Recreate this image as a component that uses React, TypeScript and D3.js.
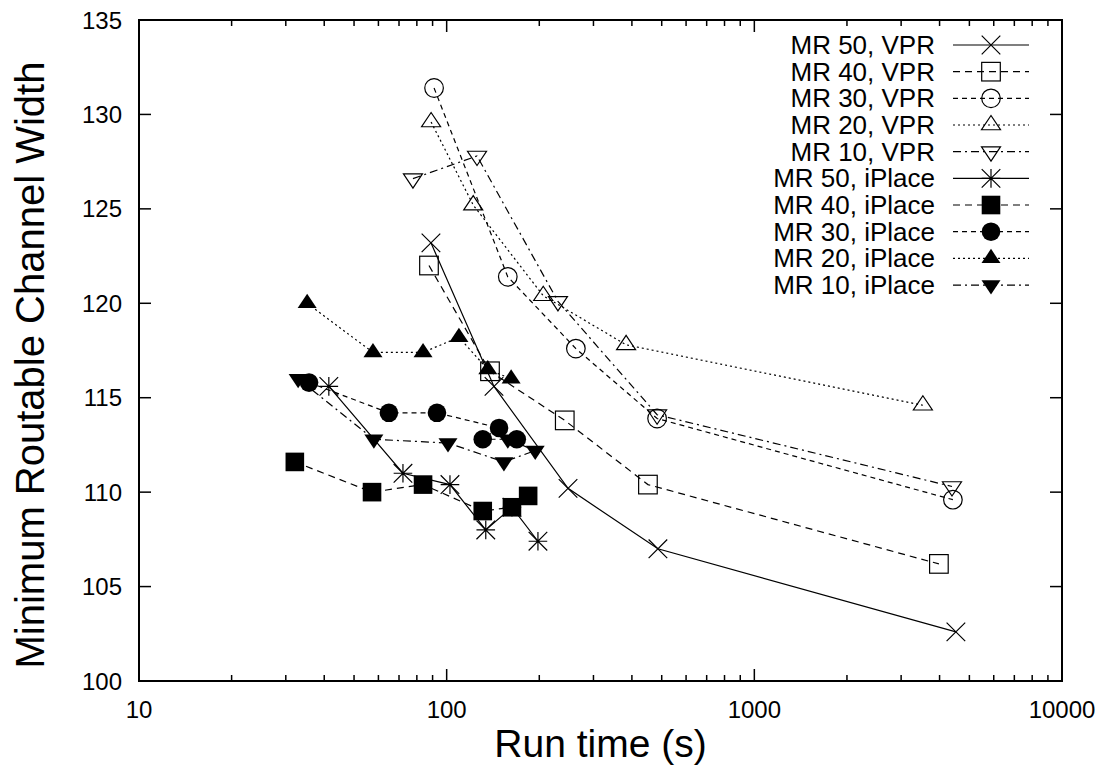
import React from "react";
import * as d3 from "d3";

// ---------- data ----------
const seriesNames = [
  "MR 50, VPR",
  "MR 40, VPR",
  "MR 30, VPR",
  "MR 20, VPR",
  "MR 10, VPR",
  "MR 50, iPlace",
  "MR 40, iPlace",
  "MR 30, iPlace",
  "MR 20, iPlace",
  "MR 10, iPlace",
];

const vpr50X = [88.9, 142.5, 248, 486, 4520];
const vpr50Y = [123.2, 115.6, 110.2, 107.0, 102.6];
const vpr40X = [87.6, 138.3, 242, 451, 3980];
const vpr40Y = [122.0, 116.4, 113.8, 110.4, 106.2];
const vpr30X = [91, 158, 263, 483, 4420];
const vpr30Y = [131.4, 121.4, 117.6, 113.9, 109.6];
const vpr20X = [89, 122, 206, 383, 3530];
const vpr20Y = [129.6, 125.2, 120.4, 117.8, 114.6];
const vpr10X = [77.7, 125.5, 230, 483, 4390];
const vpr10Y = [126.6, 127.8, 120.1, 114.1, 110.3];

const ip50X = [41.4, 72.1, 102.5, 134, 163, 198];
const ip50Y = [115.6, 111.0, 110.4, 108.0, 109.2, 107.4];
const ip40X = [32.1, 57.2, 83.8, 131, 163, 184];
const ip40Y = [111.6, 110.0, 110.4, 109.0, 109.2, 109.8];
const ip30X = [35.7, 64.9, 93, 148, 131, 169];
const ip30Y = [115.8, 114.2, 114.2, 113.4, 112.8, 112.8];
const ip20X = [35.2, 57.6, 83.8, 109.6, 136, 162];
const ip20Y = [120.0, 117.4, 117.4, 118.2, 116.5, 116.0];
const ip10X = [32.9, 58, 101, 153.5, 194, 158];
const ip10Y = [116.0, 112.8, 112.6, 111.6, 112.2, 112.8];

const xTickValues = [10, 100, 1000, 10000];
const yTickValues = [100, 105, 110, 115, 120, 125, 130, 135];

const seriesX = [vpr50X, vpr40X, vpr30X, vpr20X, vpr10X, ip50X, ip40X, ip30X, ip20X, ip10X];
const seriesY = [vpr50Y, vpr40Y, vpr30Y, vpr20Y, vpr10Y, ip50Y, ip40Y, ip30Y, ip20Y, ip10Y];
const markerTypes = ["x", "square", "circle", "tri", "dtri", "star", "fsquare", "fcircle", "ftri", "fdtri"];
const dashTypes = ["", "7,5", "5,4", "2,3", "8,4,2,4", "", "7,5", "5,4", "2,3", "8,4,2,4"];

// ---------- layout ----------
const W = 1106;
const H = 767;
const L = 139;
const R = 1062;
const T = 20;
const B = 681;
const FONT = "'Liberation Sans', Arial, Helvetica, sans-serif";

function Marker({ type, cx, cy }: { type: string; cx: number; cy: number }) {
  const s = 9.3;
  const t = 9.5;
  const sw = 1.2;
  switch (type) {
    case "x":
      return (
        <path d={`M${cx - s},${cy - s}L${cx + s},${cy + s}M${cx - s},${cy + s}L${cx + s},${cy - s}`} stroke="#000" strokeWidth={sw} fill="none" />
      );
    case "star":
      return (
        <path
          d={`M${cx - s},${cy - s}L${cx + s},${cy + s}M${cx - s},${cy + s}L${cx + s},${cy - s}M${cx - s},${cy}L${cx + s},${cy}M${cx},${cy - s}L${cx},${cy + s}`}
          stroke="#000" strokeWidth={sw} fill="none" />
      );
    case "square":
      return <rect x={cx - s} y={cy - s} width={2 * s} height={2 * s} stroke="#000" strokeWidth={sw} fill="none" />;
    case "fsquare":
      return <rect x={cx - s} y={cy - s} width={2 * s} height={2 * s} fill="#000" />;
    case "circle":
      return <circle cx={cx} cy={cy} r={s} stroke="#000" strokeWidth={sw} fill="none" />;
    case "fcircle":
      return <circle cx={cx} cy={cy} r={s} fill="#000" />;
    case "tri":
      return <path d={`M${cx},${cy - t}L${cx + t},${cy + t / 2}L${cx - t},${cy + t / 2}Z`} stroke="#000" strokeWidth={sw} fill="none" />;
    case "ftri":
      return <path d={`M${cx},${cy - t}L${cx + t},${cy + t / 2}L${cx - t},${cy + t / 2}Z`} fill="#000" />;
    case "dtri":
      return <path d={`M${cx},${cy + t}L${cx + t},${cy - t / 2}L${cx - t},${cy - t / 2}Z`} stroke="#000" strokeWidth={sw} fill="none" />;
    case "fdtri":
      return <path d={`M${cx},${cy + t}L${cx + t},${cy - t / 2}L${cx - t},${cy - t / 2}Z`} fill="#000" />;
  }
  return null;
}

export default function App() {
  const x = d3.scaleLog().domain([10, 10000]).range([L, R]);
  const y = d3.scaleLinear().domain([100, 135]).range([B, T]);
  const line = d3
    .line<[number, number]>()
    .x((d) => x(d[0]))
    .y((d) => y(d[1]));

  const minorTicks: number[] = [];
  for (let dec = 10; dec < 10000; dec *= 10) {
    for (let k = 2; k <= 9; k++) minorTicks.push(dec * k);
  }

  const legendTop = 45;
  const legendStep = 26.67;

  return (
    <svg width={W} height={H} style={{ position: "absolute", left: 0, top: 0, background: "#fff" }} fontFamily={FONT}>
      <rect x={0} y={0} width={W} height={H} fill="#fff" />

      {/* data lines */}
      {seriesX.map((xs, i) => {
        const pts = xs.map((v, j) => [v, seriesY[i][j]] as [number, number]);
        return (
          <path key={"l" + i} d={line(pts) || ""} fill="none" stroke="#000" strokeWidth={1.2} strokeDasharray={dashTypes[i] || undefined} />
        );
      })}
      {/* markers */}
      {seriesX.map((xs, i) =>
        xs.map((v, j) => <Marker key={`m${i}-${j}`} type={markerTypes[i]} cx={x(v)} cy={y(seriesY[i][j])} />)
      )}

      {/* legend */}
      {seriesNames.map((name, i) => {
        const ly = legendTop + i * legendStep;
        return (
          <g key={"lg" + i}>
            <text x={935} y={ly + 9} textAnchor="end" fontSize={26} fill="#000">
              {name}
            </text>
            <line x1={953} x2={1029} y1={ly} y2={ly} stroke="#000" strokeWidth={1.2} strokeDasharray={dashTypes[i] || undefined} />
            <Marker type={markerTypes[i]} cx={991} cy={ly} />
          </g>
        );
      })}

      {/* axes box */}
      <rect x={L} y={T} width={R - L} height={B - T} fill="none" stroke="#000" strokeWidth={2} />

      {/* x ticks */}
      {xTickValues.map((v) => (
        <g key={"xt" + v}>
          <line x1={x(v)} x2={x(v)} y1={B} y2={B - 12} stroke="#000" strokeWidth={1.5} />
          <line x1={x(v)} x2={x(v)} y1={T} y2={T + 12} stroke="#000" strokeWidth={1.5} />
          <text x={x(v)} y={718} textAnchor="middle" fontSize={24}>
            {v}
          </text>
        </g>
      ))}
      {minorTicks.map((v) => (
        <g key={"xm" + v}>
          <line x1={x(v)} x2={x(v)} y1={B} y2={B - 6} stroke="#000" strokeWidth={1.5} />
          <line x1={x(v)} x2={x(v)} y1={T} y2={T + 6} stroke="#000" strokeWidth={1.5} />
        </g>
      ))}

      {/* y ticks */}
      {yTickValues.map((v) => (
        <g key={"yt" + v}>
          <line x1={L} x2={L + 12} y1={y(v)} y2={y(v)} stroke="#000" strokeWidth={1.5} />
          <line x1={R} x2={R - 12} y1={y(v)} y2={y(v)} stroke="#000" strokeWidth={1.5} />
          <text x={122} y={y(v) + 8.5} textAnchor="end" fontSize={24}>
            {v}
          </text>
        </g>
      ))}

      {/* axis titles */}
      <text x={(L + R) / 2} y={757} textAnchor="middle" fontSize={39}>
        Run time (s)
      </text>
      <text transform={`translate(44,365) rotate(-90)`} textAnchor="middle" fontSize={40}>
        Minimum Routable Channel Width
      </text>
    </svg>
  );
}
